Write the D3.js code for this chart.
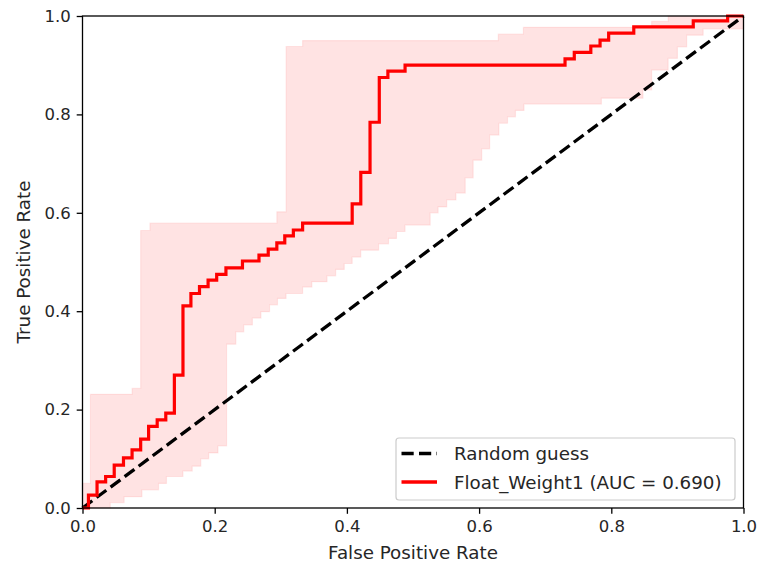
<!DOCTYPE html>
<html><head><meta charset="utf-8">
<script src="https://cdn.jsdelivr.net/npm/d3@7"></script>
<style>
html,body{margin:0;padding:0;background:#fff;}
text{font-family:"DejaVu Sans",sans-serif;fill:#262626;}
</style></head>
<body><svg id="chart" width="759" height="569"></svg>
<script>
// ROC curve (step-after points)
const rocFpr = [0, 0.009, 0.022, 0.035, 0.048, 0.062, 0.075, 0.088, 0.100, 0.113, 0.126, 0.139, 0.152, 0.164, 0.177, 0.190, 0.203, 0.217, 0.242, 0.267, 0.281, 0.294, 0.306, 0.319, 0.333, 0.408, 0.421, 0.435, 0.449, 0.462, 0.488, 0.730, 0.744, 0.769, 0.783, 0.796, 0.834, 0.924, 0.976, 1.0];
const rocTpr = [0, 0.026, 0.053, 0.064, 0.087, 0.102, 0.118, 0.140, 0.166, 0.179, 0.193, 0.270, 0.411, 0.436, 0.450, 0.463, 0.475, 0.488, 0.502, 0.514, 0.526, 0.539, 0.553, 0.565, 0.579, 0.618, 0.682, 0.784, 0.875, 0.888, 0.900, 0.913, 0.926, 0.939, 0.951, 0.965, 0.978, 0.990, 1.0, 1.0];
// Confidence band upper bound
const upFpr = [0, 0.012, 0.075, 0.088, 0.102, 0.294, 0.308, 0.333, 0.629, 0.667, 0.861, 0.886, 1.0];
const upTpr = [0.050, 0.231, 0.243, 0.564, 0.579, 0.602, 0.938, 0.950, 0.963, 0.977, 0.989, 1.0, 1.0];
// Confidence band lower bound
const loFpr = [0, 0.042, 0.063, 0.090, 0.115, 0.127, 0.152, 0.166, 0.179, 0.191, 0.205, 0.218, 0.232, 0.244, 0.257, 0.270, 0.283, 0.295, 0.308, 0.333, 0.347, 0.370, 0.383, 0.396, 0.408, 0.421, 0.448, 0.463, 0.475, 0.488, 0.526, 0.538, 0.551, 0.565, 0.579, 0.591, 0.604, 0.616, 0.630, 0.643, 0.655, 0.668, 0.785, 0.848, 0.861, 0.886, 0.900, 0.914, 0.939, 1.0];
const loTpr = [0, 0.011, 0.023, 0.037, 0.050, 0.064, 0.075, 0.085, 0.100, 0.112, 0.126, 0.333, 0.358, 0.372, 0.386, 0.399, 0.413, 0.426, 0.436, 0.449, 0.460, 0.472, 0.485, 0.497, 0.510, 0.524, 0.537, 0.548, 0.562, 0.575, 0.600, 0.612, 0.626, 0.640, 0.671, 0.707, 0.730, 0.758, 0.782, 0.795, 0.808, 0.821, 0.833, 0.850, 0.890, 0.914, 0.937, 0.961, 0.974, 0.974];
// Random guess diagonal
const diagX = [0, 1];
const diagY = [0, 1];
const xTicks = [0.0, 0.2, 0.4, 0.6, 0.8, 1.0];
const yTicks = [0.0, 0.2, 0.4, 0.6, 0.8, 1.0];
const legendLabels = ["Random guess", "Float_Weight1 (AUC = 0.690)"];

const svg = d3.select("#chart");
const L = 82.5, R = 743.5, T = 16, B = 508;
const x = d3.scaleLinear().domain([0, 1]).range([L, R]);
const y = d3.scaleLinear().domain([0, 1]).range([B, T]);

// band: merge x grids, step-after values
function stepVal(xs, ys, v) {
  let idx = 0;
  for (let i = 0; i < xs.length; i++) if (xs[i] <= v + 1e-9) idx = i;
  return ys[idx];
}
const grid = Array.from(new Set(upFpr.concat(loFpr))).sort((a, b) => a - b);
const band = grid.map(v => ({x: v, lo: stepVal(loFpr, loTpr, v), hi: stepVal(upFpr, upTpr, v)}));
svg.append("path").datum(band)
  .attr("d", d3.area().x(d => x(d.x)).y0(d => y(d.lo)).y1(d => y(d.hi)).curve(d3.curveStepAfter))
  .attr("fill", "rgb(255,0,0)").attr("fill-opacity", 0.11)
  .attr("stroke", "rgb(255,0,0)").attr("stroke-opacity", 0.08).attr("stroke-width", 1.2);

// diagonal
svg.append("path").datum(diagX.map((d, i) => [d, diagY[i]]))
  .attr("d", d3.line().x(d => x(d[0])).y(d => y(d[1])))
  .attr("fill", "none").attr("stroke", "#000").attr("stroke-width", 3.3)
  .attr("stroke-dasharray", "12.2,5.3");

// ROC
svg.append("path").datum(rocFpr.map((d, i) => [d, rocTpr[i]]))
  .attr("d", d3.line().x(d => x(d[0])).y(d => y(d[1])).curve(d3.curveStepAfter))
  .attr("fill", "none").attr("stroke", "#ff0000").attr("stroke-width", 3.2)
  .attr("stroke-linejoin", "miter");

// axes
const xAxis = svg.append("g").attr("transform", `translate(0,${B})`)
  .call(d3.axisBottom(x).tickValues(xTicks).tickFormat(d3.format(".1f")).tickSizeOuter(0).tickSize(5.8).tickPadding(6));
const yAxis = svg.append("g").attr("transform", `translate(${L},0)`)
  .call(d3.axisLeft(y).tickValues(yTicks).tickFormat(d3.format(".1f")).tickSizeOuter(0).tickSize(5.8).tickPadding(6));
[xAxis, yAxis].forEach(g => {
  g.select(".domain").remove();
  g.selectAll(".tick line").attr("stroke", "#000").attr("stroke-width", 1.3);
  g.selectAll(".tick text").attr("font-family", "DejaVu Sans").attr("font-size", 16.5).attr("fill", "#262626");
});
// spines
svg.append("rect").attr("x", L).attr("y", T).attr("width", R - L).attr("height", B - T)
  .attr("fill", "none").attr("stroke", "#000").attr("stroke-width", 1.3);

// axis labels
svg.append("text").attr("x", (L + R) / 2).attr("y", 559).attr("text-anchor", "middle")
  .attr("font-size", 18.3).text("False Positive Rate");
svg.append("text").attr("transform", `translate(30,${(T + B) / 2}) rotate(-90)`).attr("text-anchor", "middle")
  .attr("font-size", 18.3).text("True Positive Rate");

// legend
const lg = svg.append("g");
lg.append("rect").attr("x", 396).attr("y", 438).attr("width", 339).attr("height", 62)
  .attr("rx", 3).attr("fill", "#fff").attr("fill-opacity", 0.8).attr("stroke", "#cccccc").attr("stroke-width", 1.2);
const rows = [
  {label: legendLabels[0], color: "#000", dash: "12.2,5.3", yy: 453.5},
  {label: legendLabels[1], color: "#ff0000", dash: null, yy: 482}
];
rows.forEach(r => {
  lg.append("line").attr("x1", 401.5).attr("x2", 437).attr("y1", r.yy).attr("y2", r.yy)
    .attr("stroke", r.color).attr("stroke-width", 3.3).attr("stroke-dasharray", r.dash);
  lg.append("text").attr("x", 454).attr("y", r.yy + 6.5).attr("font-size", 18.3).text(r.label);
});
</script></body></html>
